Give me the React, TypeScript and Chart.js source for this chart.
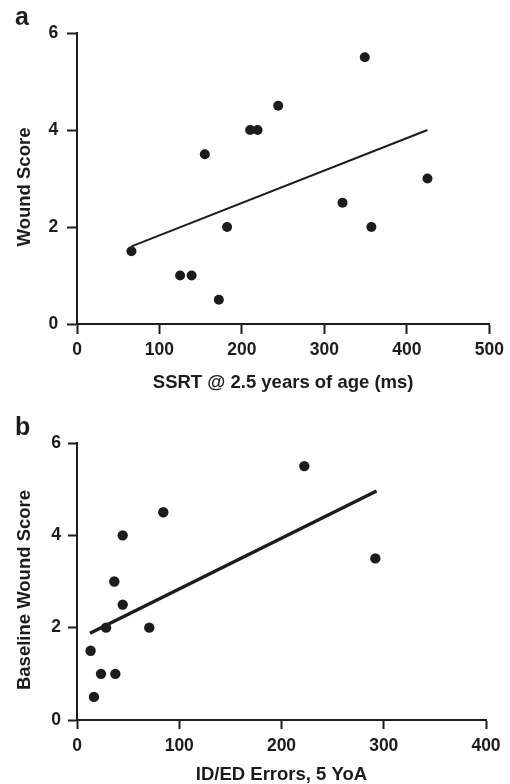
import React, { useEffect, useRef } from "react";
import { Chart, registerables } from "chart.js";

Chart.register(...registerables);

// Panel a: SSRT @ 2.5 years vs wound score
const ssrtMs = [66, 125, 139, 155, 172, 182, 210, 219, 244, 322, 349, 357, 425];
const woundScoreA = [1.5, 1, 1, 3.5, 0.5, 2, 4, 4, 4.5, 2.5, 5.5, 2, 3];
const fitLineAX = [66, 425];
const fitLineAY = [1.6, 4.0];
const xTicksA = [0, 100, 200, 300, 400, 500];

// Panel b: ID/ED errors at 5 years vs baseline wound score
const idedErrors = [13.3, 16.6, 23.5, 37.5, 28.4, 36.5, 44.7, 44.7, 70.7, 84.4, 222.3, 291.8];
const woundScoreB = [1.5, 0.5, 1, 1, 2, 3, 2.5, 4, 2, 4.5, 5.5, 3.5];
const fitLineBX = [12.7, 293];
const fitLineBY = [1.88, 4.96];
const xTicksB = [0, 100, 200, 300, 400];

const yTicks = [0, 2, 4, 6];

const FONT = '"Liberation Sans", Arial, Helvetica, sans-serif';
const INK = "#1c1c1c";

const yTitlePlugin = {
  id: "yTitle",
  afterDraw(chart: any, _args: any, opts: any) {
    if (!opts || !opts.text) return;
    const { ctx, chartArea } = chart;
    ctx.save();
    ctx.font = `bold ${opts.size}px ${FONT}`;
    ctx.fillStyle = INK;
    ctx.textAlign = "center";
    ctx.textBaseline = "middle";
    ctx.translate(opts.x, (chartArea.top + chartArea.bottom) / 2 + opts.shift);
    ctx.rotate(-Math.PI / 2);
    ctx.fillText(opts.text, 0, 0);
    ctx.restore();
  },
};

type PanelProps = {
  letter: string;
  xs: number[];
  ys: number[];
  fitX: number[];
  fitY: number[];
  xTicks: number[];
  xTitle: string;
  yTitle: string;
  width: number;
  height: number;
  top: number;
  padRight: number;
  letterPadTop: number;
  letterPadBottom: number;
  xScaleHeight: number;
  xTitlePadBottom: number;
  tickLen: number;
  xLabelPad: number;
  yLabelPad: number;
  lineWidth: number;
  pointRadius: number;
};

function Panel(p: PanelProps) {
  const ref = useRef<HTMLCanvasElement | null>(null);
  useEffect(() => {
    if (!ref.current) return;
    const points = p.xs.map((x, i) => ({ x, y: p.ys[i] }));
    const fit = p.fitX.map((x, i) => ({ x, y: p.fitY[i] }));
    const chart = new Chart(ref.current, {
      type: "scatter",
      data: {
        datasets: [
          {
            data: points,
            backgroundColor: INK,
            borderWidth: 0,
            pointRadius: p.pointRadius,
            pointHoverRadius: p.pointRadius,
            order: 1,
          },
          {
            data: fit,
            showLine: true,
            borderColor: INK,
            borderWidth: p.lineWidth,
            pointRadius: 0,
            fill: false,
            order: 2,
          } as any,
        ],
      },
      options: {
        responsive: false,
        animation: false,
        devicePixelRatio: 1,
        layout: { padding: { left: 15, right: p.padRight, top: 0, bottom: 0 } },
        plugins: {
          legend: { display: false },
          tooltip: { enabled: false },
          title: {
            display: true,
            text: p.letter,
            align: "start",
            color: INK,
            font: { family: FONT, size: 25, weight: "bold", lineHeight: 1.2 },
            padding: { top: p.letterPadTop, bottom: p.letterPadBottom },
          },
          yTitle: { text: p.yTitle, x: 24.5, shift: 8.5, size: 18.5 },
        } as any,
        scales: {
          x: {
            type: "linear",
            min: p.xTicks[0],
            max: p.xTicks[p.xTicks.length - 1],
            afterBuildTicks: (s: any) => {
              s.ticks = p.xTicks.map((v) => ({ value: v }));
            },
            afterFit: (s: any) => {
              s.height = p.xScaleHeight;
            },
            border: { display: true, color: INK, width: 2 },
            grid: {
              drawOnChartArea: false,
              drawTicks: true,
              tickLength: p.tickLen,
              tickWidth: 2,
              tickColor: INK,
              color: INK,
            },
            ticks: {
              color: INK,
              padding: p.xLabelPad,
              maxRotation: 0,
              font: { family: FONT, size: 17.5, weight: "bold" },
            },
            title: {
              display: true,
              text: p.xTitle,
              color: INK,
              font: { family: FONT, size: 18.5, weight: "bold", lineHeight: 1 },
              padding: { top: 0, bottom: p.xTitlePadBottom },
            },
          },
          y: {
            type: "linear",
            min: yTicks[0],
            max: yTicks[yTicks.length - 1],
            afterBuildTicks: (s: any) => {
              s.ticks = yTicks.map((v) => ({ value: v }));
            },
            afterFit: (s: any) => {
              s.width = 62;
            },
            border: { display: true, color: INK, width: 2 },
            grid: {
              drawOnChartArea: false,
              drawTicks: true,
              tickLength: p.tickLen,
              tickWidth: 2,
              tickColor: INK,
              color: INK,
            },
            ticks: {
              color: INK,
              padding: p.yLabelPad,
              font: { family: FONT, size: 17.5, weight: "bold" },
            },
          },
        },
      },
      plugins: [yTitlePlugin as any],
    });
    return () => chart.destroy();
  }, []);
  return (
    <canvas
      ref={ref}
      width={p.width}
      height={p.height}
      style={{ position: "absolute", left: 0, top: p.top, width: p.width, height: p.height }}
    />
  );
}

export default function App() {
  return (
    <div style={{ position: "absolute", left: 0, top: 0, width: 510, height: 784, background: "#fff" }}>
      <Panel
        letter="a"
        xs={ssrtMs}
        ys={woundScoreA}
        fitX={fitLineAX}
        fitY={fitLineAY}
        xTicks={xTicksA}
        xTitle="SSRT @ 2.5 years of age (ms)"
        yTitle="Wound Score"
        width={510}
        height={400}
        top={0}
        padRight={20}
        letterPadTop={3.5}
        letterPadBottom={-0.5}
        xScaleHeight={76}
        xTitlePadBottom={8}
        tickLen={10}
        xLabelPad={6.1}
        yLabelPad={8.7}
        lineWidth={2}
        pointRadius={5}
      />
      <Panel
        letter="b"
        xs={idedErrors}
        ys={woundScoreB}
        fitX={fitLineBX}
        fitY={fitLineBY}
        xTicks={xTicksB}
        xTitle="ID/ED Errors, 5 YoA"
        yTitle="Baseline Wound Score"
        width={510}
        height={384}
        top={400}
        padRight={24}
        letterPadTop={13}
        letterPadBottom={0}
        xScaleHeight={64}
        xTitlePadBottom={0.2}
        tickLen={9}
        xLabelPad={6.4}
        yLabelPad={7}
        lineWidth={3.5}
        pointRadius={5.2}
      />
    </div>
  );
}
